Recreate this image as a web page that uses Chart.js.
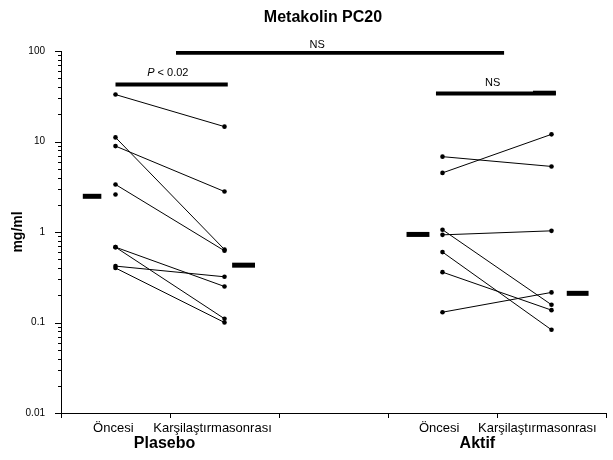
<!DOCTYPE html>
<html>
<head>
<meta charset="utf-8">
<script src="https://cdn.jsdelivr.net/npm/chart.js@4"></script>
<style>
  html, body { margin: 0; padding: 0; background: #fff; }
</style>
</head>
<body>
<canvas id="chart" width="613" height="460"></canvas>
<script>
// x positions (linear axis 0..5, tick marks at every integer)
const phaseX = [0.5, 1.5, 3.5, 4.5];
const phaseLabels = ['Öncesi', 'Karşilaştırmasonrası', 'Öncesi', 'Karşilaştırmasonrası'];
const phaseLabelX = [0.48, 1.39, 3.47, 4.37];
const groupNames = ['Plasebo', 'Aktif'];
const groupLabelX = [0.95, 3.82];
const yTicks = [0.01, 0.1, 1, 10, 100];

// individual subjects, mg/ml
const plaseboOncesi  = [33, 11.1, 8.9, 3.35, 0.68, 0.68, 0.42, 0.40, 2.6];
const plaseboSonrasi = [14.6, 0.64, 2.8, 0.62, 0.25, 0.11, 0.32, 0.10, null];
const aktifOncesi    = [6.8, 4.5, 0.93, 1.06, 0.60, 0.36, 0.13];
const aktifSonrasi   = [5.3, 12.0, 1.03, 0.157, 0.083, 0.137, 0.215];

// group means (short thick bars beside each column)
const meanValues = [2.48, 0.43, 0.94, 0.21];
const meanFrom   = [0.2, 1.57, 3.17, 4.64];
const meanTo     = [0.37, 1.78, 3.38, 4.84];

// significance bars
const sigFrom  = [0.5, 1.055, 3.44, 4.33];
const sigTo    = [1.53, 4.065, 4.54, 4.54];
const sigY     = [42.6, 95.5, 33.9, 34.6];
const sigText  = ['P < 0.02', 'NS', 'NS', ''];
const sigTextX = [0.98, 2.35, 3.96, 0];
const sigTextGap = [12, 8, 11, 0];

Chart.defaults.font.family = '"Liberation Sans", Arial, sans-serif';
Chart.defaults.color = '#000';

const datasets = [];

function addSubjects(pre, post, x0, x1) {
    pre.forEach((v, i) => {
        const pts = [{ x: x0, y: v }];
        if (post[i] != null) pts.push({ x: x1, y: post[i] });
        datasets.push({
            data: pts,
            showLine: true,
            borderColor: '#000',
            borderWidth: 1,
            pointRadius: 2.3,
            pointBackgroundColor: '#000',
            pointBorderWidth: 0
        });
    });
}
addSubjects(plaseboOncesi, plaseboSonrasi, phaseX[0], phaseX[1]);
addSubjects(aktifOncesi, aktifSonrasi, phaseX[2], phaseX[3]);

meanValues.forEach((v, i) => {
    datasets.push({
        data: [{ x: meanFrom[i], y: v }, { x: meanTo[i], y: v }],
        showLine: true,
        borderColor: '#000',
        borderWidth: 5,
        borderCapStyle: 'butt',
        pointRadius: 0
    });
});

sigY.forEach((v, i) => {
    datasets.push({
        data: [{ x: sigFrom[i], y: v }, { x: sigTo[i], y: v }],
        showLine: true,
        borderColor: '#000',
        borderWidth: 4,
        borderCapStyle: 'butt',
        pointRadius: 0
    });
});

// axis lines, tick marks and the free text
const decor = {
    id: 'decor',
    afterDraw(chart) {
        const { ctx, chartArea: a, scales: { x, y } } = chart;
        ctx.save();
        ctx.strokeStyle = '#000';
        ctx.lineWidth = 1;
        ctx.beginPath();
        ctx.moveTo(a.left + 0.5, a.top);
        ctx.lineTo(a.left + 0.5, a.bottom + 1);
        ctx.moveTo(a.left, a.bottom + 0.5);
        ctx.lineTo(a.right + 1, a.bottom + 0.5);
        for (let d = -2; d <= 2; d++) {
            for (let m = 1; m <= 9; m++) {
                const v = m * Math.pow(10, d);
                if (v > 100.001) break;
                const py = Math.round(y.getPixelForValue(v)) + 0.5;
                const len = m === 1 ? 6 : 3;
                ctx.moveTo(a.left - len, py);
                ctx.lineTo(a.left, py);
            }
        }
        for (let k = 0; k <= 5; k++) {
            const px = Math.round(x.getPixelForValue(k)) + 0.5;
            ctx.moveTo(px, a.bottom);
            ctx.lineTo(px, a.bottom + 5);
        }
        ctx.stroke();

        ctx.fillStyle = '#000';
        ctx.textAlign = 'center';
        ctx.textBaseline = 'middle';

        ctx.font = 'bold 16px "Liberation Sans", Arial, sans-serif';
        ctx.fillText('Metakolin PC20', 323, 18);

        groupNames.forEach((g, i) => {
            ctx.fillText(g, x.getPixelForValue(groupLabelX[i]), 444);
        });

        sigText.forEach((t, i) => {
            if (!t) return;
            const cx = x.getPixelForValue(sigTextX[i]);
            const cy = y.getPixelForValue(sigY[i]) - sigTextGap[i];
            if (t.startsWith('P ')) {
                const rest = t.slice(1);
                ctx.font = 'italic 11px "Liberation Sans", Arial, sans-serif';
                const wP = ctx.measureText('P').width;
                ctx.font = '11px "Liberation Sans", Arial, sans-serif';
                const wR = ctx.measureText(rest).width;
                const start = cx - (wP + wR) / 2;
                ctx.textAlign = 'left';
                ctx.font = 'italic 11px "Liberation Sans", Arial, sans-serif';
                ctx.fillText('P', start, cy);
                ctx.font = '11px "Liberation Sans", Arial, sans-serif';
                ctx.fillText(rest, start + wP, cy);
                ctx.textAlign = 'center';
            } else {
                ctx.font = '11px "Liberation Sans", Arial, sans-serif';
                ctx.fillText(t, cx, cy);
            }
        });
        ctx.restore();
    }
};

new Chart(document.getElementById('chart'), {
    type: 'scatter',
    data: { datasets: datasets },
    options: {
        responsive: false,
        animation: false,
        devicePixelRatio: 1,
        layout: { padding: { top: 51, right: 7, left: 0, bottom: 0 } },
        plugins: {
            legend: { display: false },
            tooltip: { enabled: false }
        },
        scales: {
            x: {
                type: 'linear',
                min: 0,
                max: 5,
                grid: { display: false },
                border: { display: false },
                afterBuildTicks: axis => {
                    axis.ticks = phaseLabelX.map(v => ({ value: v }));
                },
                afterFit: axis => { axis.height = 47; },
                ticks: {
                    autoSkip: false,
                    maxRotation: 0,
                    padding: 0,
                    font: { size: 13 },
                    callback: (value, index) => phaseLabels[index]
                }
            },
            y: {
                type: 'logarithmic',
                min: 0.01,
                max: 100,
                grid: { display: false },
                border: { display: false },
                afterBuildTicks: axis => {
                    axis.ticks = yTicks.map(v => ({ value: v }));
                },
                afterFit: axis => { axis.width = 61; },
                ticks: {
                    padding: 8,
                    font: { size: 10 },
                    callback: value => String(value)
                },
                title: {
                    display: true,
                    text: 'mg/ml',
                    font: { size: 14, weight: 'bold' },
                    padding: { top: 10, bottom: 0 }
                }
            }
        }
    },
    plugins: [decor]
});
</script>
</body>
</html>
